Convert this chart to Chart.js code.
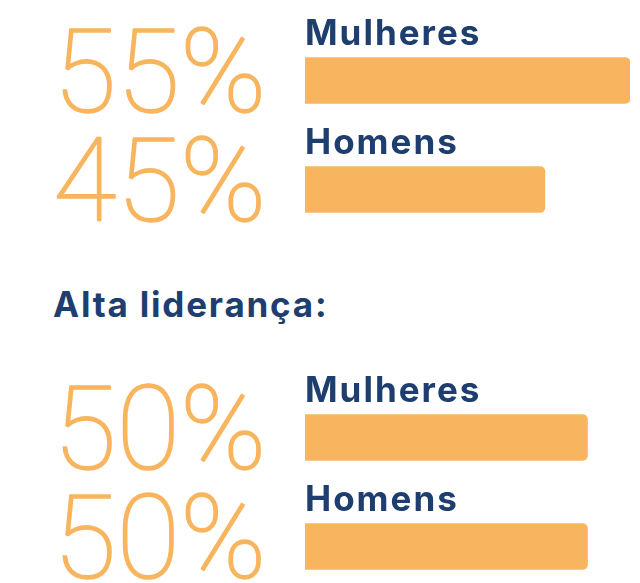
<!DOCTYPE html>
<html>
<head>
<meta charset="utf-8">
<script src="https://cdn.jsdelivr.net/npm/chart.js@4"></script>
<style>
  html, body { margin: 0; padding: 0; background: #fff; overflow: hidden; }
  body { width: 640px; height: 583px; position: relative; }
  canvas { position: absolute; left: 0; }
  #topChart { top: 0; }
  #bottomChart { top: 350px; }
  #heading {
    position: absolute; left: 53px; top: 283px;
    font: 700 35px "Inter", sans-serif; color: #1d3e6e; letter-spacing: 1.8px;
  }
</style>
</head>
<body>
<canvas id="topChart" width="640" height="260"></canvas>
<div id="heading"></div>
<canvas id="bottomChart" width="640" height="260"></canvas>
<script>
const categories = ["Mulheres", "Homens"];
const geralValues = [55, 45];
const liderancaValues = [50, 50];
const headingText = "Alta liderança:";

const orange = "#f8b55f";
const navy = "#1d3e6e";

document.getElementById("heading").textContent = headingText;

// draws the big percentages and the labels next to each bar
const labelsPlugin = {
    id: "labels",
    afterDatasetsDraw(chart) {
        const ctx = chart.ctx;
        const values = chart.data.datasets[0].data;
        const meta = chart.getDatasetMeta(0);
        const left = chart.chartArea.left;
        ctx.save();
        ctx.textBaseline = "alphabetic";
        ctx.textAlign = "left";
        meta.data.forEach((bar, i) => {
            ctx.fillStyle = navy;
            ctx.font = "700 35px Inter, sans-serif";
            ctx.letterSpacing = "2px";
            ctx.fillText(chart.data.labels[i], left, bar.y - 23 - 13);

            ctx.letterSpacing = "0px";
            ctx.fillStyle = orange;
            ctx.strokeStyle = orange;
            ctx.lineWidth = 1.6;
            ctx.lineJoin = "round";
            ctx.font = "100 116px Roboto, sans-serif";
            ctx.fillText(values[i] + "%", 53, bar.y + 31);
            ctx.strokeText(values[i] + "%", 53, bar.y + 31);
        });
        ctx.restore();
    }
};

function makeChart(id, values, padTop, padBottom) {
    return new Chart(document.getElementById(id).getContext("2d"), {
        type: "bar",
        data: {
            labels: categories,
            datasets: [{
                data: values,
                backgroundColor: orange,
                borderRadius: 5,
                borderSkipped: false,
                barThickness: 46
            }]
        },
        options: {
            indexAxis: "y",
            responsive: false,
            animation: false,
            layout: { padding: { left: 305, right: 10, top: padTop, bottom: padBottom } },
            plugins: { legend: { display: false }, tooltip: { enabled: false } },
            scales: {
                x: { display: false, min: 16.8, max: 55 },
                y: { display: false }
            }
        },
        plugins: [labelsPlugin]
    });
}

makeChart("topChart", geralValues, 26, 16);
makeChart("bottomChart", liderancaValues, 33, 9);
</script>
</body>
</html>
